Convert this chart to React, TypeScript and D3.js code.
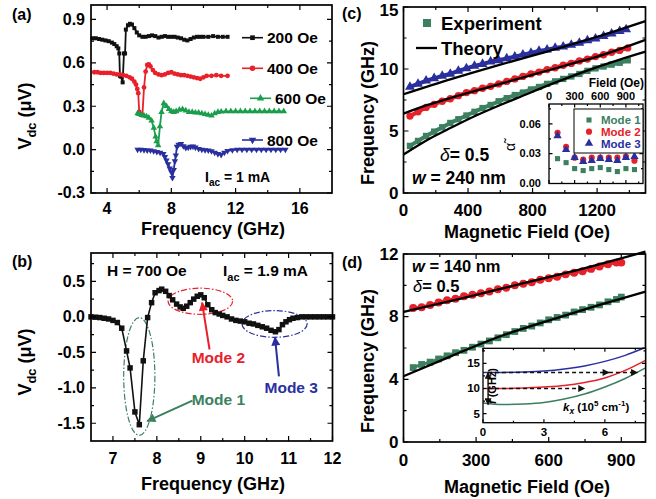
import React from 'react';
import * as d3 from 'd3';

const FONT = "'Liberation Sans', Arial, Helvetica, sans-serif";
const RED = '#e8202a';
const GREEN_A = '#1a9e4c';
const GREEN = '#3c8060';
const BLUE = '#2a2f9e';

// ---- panel (a): Vdc vs frequency for four fields
const a200 = [[3.1,0.77],[3.3,0.77],[3.5,0.765],[3.7,0.76],[3.9,0.755],[4.1,0.75],[4.3,0.74],[4.45,0.73],[4.6,0.715],[4.7,0.70],[4.76,0.665],[4.8,0.51],[4.86,0.505],[4.97,0.465],[5.05,0.665],[5.12,0.665],[5.17,0.83],[5.3,0.86],[5.42,0.87],[5.55,0.865],[5.7,0.84],[5.85,0.81],[6.0,0.79],[6.2,0.78],[6.4,0.78],[6.6,0.785],[6.8,0.79],[7.0,0.785],[7.2,0.775],[7.4,0.78],[7.6,0.785],[7.8,0.78],[8.0,0.78],[8.2,0.78],[8.4,0.775],[8.6,0.77],[8.8,0.76],[9.0,0.755],[9.2,0.765],[9.4,0.775],[9.6,0.78],[9.8,0.78],[10.0,0.78],[10.3,0.78],[10.6,0.785],[10.9,0.78],[11.2,0.78],[11.5,0.78]];
const a400 = [[3.2,0.535],[3.4,0.535],[3.6,0.53],[3.8,0.53],[4.0,0.53],[4.2,0.53],[4.4,0.525],[4.6,0.52],[4.8,0.52],[5.0,0.515],[5.2,0.51],[5.4,0.5],[5.55,0.49],[5.7,0.47],[5.8,0.45],[5.88,0.42],[5.94,0.39],[6.0,0.26],[6.1,0.24],[6.2,0.24],[6.3,0.43],[6.4,0.54],[6.5,0.585],[6.6,0.59],[6.7,0.575],[6.85,0.55],[7.0,0.53],[7.2,0.52],[7.4,0.515],[7.6,0.52],[7.8,0.53],[8.0,0.535],[8.2,0.525],[8.4,0.52],[8.6,0.515],[8.8,0.515],[9.0,0.51],[9.2,0.505],[9.4,0.5],[9.6,0.495],[9.8,0.49],[10.0,0.5],[10.2,0.51],[10.5,0.51],[10.8,0.515],[11.1,0.51],[11.5,0.51]];
const a600 = [[5.9,0.25],[6.0,0.245],[6.15,0.24],[6.3,0.235],[6.45,0.23],[6.6,0.22],[6.77,0.2],[6.91,0.15],[7.02,0.09],[7.08,0.057],[7.18,0.03],[7.29,0.16],[7.39,0.26],[7.53,0.32],[7.7,0.3],[7.85,0.28],[8.0,0.265],[8.15,0.26],[8.3,0.265],[8.5,0.275],[8.7,0.28],[8.9,0.27],[9.1,0.26],[9.3,0.26],[9.5,0.255],[9.7,0.255],[9.9,0.25],[10.1,0.245],[10.3,0.24],[10.5,0.235],[10.7,0.25],[10.9,0.26],[11.1,0.262],[11.4,0.265],[11.7,0.265],[12.0,0.265],[12.3,0.265],[12.6,0.265],[12.9,0.265],[13.2,0.265],[13.5,0.265],[13.8,0.265],[14.1,0.265],[14.4,0.265],[14.7,0.265],[15.0,0.265]];
const a800 = [[5.9,0.0],[6.1,0.0],[6.3,-0.002],[6.5,-0.005],[6.7,-0.005],[6.9,-0.01],[7.1,-0.015],[7.3,-0.02],[7.5,-0.03],[7.6,-0.05],[7.7,-0.075],[7.8,-0.1],[7.9,-0.13],[8.0,-0.155],[8.07,-0.195],[8.15,-0.14],[8.22,-0.08],[8.28,-0.04],[8.35,0.02],[8.45,0.035],[8.6,0.04],[8.75,0.025],[8.9,0.012],[9.05,0.015],[9.2,0.02],[9.35,0.022],[9.5,0.015],[9.7,0.005],[9.9,0.0],[10.1,-0.003],[10.3,-0.005],[10.5,-0.01],[10.7,-0.02],[10.9,-0.03],[11.1,-0.035],[11.3,-0.02],[11.5,-0.008],[11.8,-0.003],[12.1,0.0],[12.4,0.0],[12.7,0.0],[13.0,0.0],[13.3,0.0],[13.6,0.0],[13.9,0.0],[14.2,0.0],[14.5,0.0],[14.8,0.0],[15.1,0.0]];
const aLegend = ['200 Oe', '400 Oe', '600 Oe', '800 Oe'];

// ---- panel (b): H = 700 Oe spectrum
const bData = [[6.5,0.0],[6.6,-0.005],[6.7,-0.01],[6.8,-0.02],[6.9,-0.03],[7.0,-0.05],[7.1,-0.08],[7.2,-0.16],[7.31,-0.48],[7.39,-0.72],[7.5,-1.34],[7.6,-1.52],[7.69,-0.62],[7.79,-0.01],[7.88,0.2],[7.96,0.34],[8.05,0.37],[8.11,0.39],[8.2,0.36],[8.28,0.3],[8.36,0.24],[8.45,0.18],[8.53,0.14],[8.6,0.12],[8.68,0.15],[8.76,0.2],[8.84,0.25],[8.92,0.29],[9.0,0.31],[9.08,0.27],[9.16,0.17],[9.25,0.1],[9.33,0.06],[9.42,0.04],[9.5,0.02],[9.6,0.0],[9.7,-0.03],[9.8,-0.05],[9.9,-0.06],[10.0,-0.07],[10.1,-0.09],[10.2,-0.1],[10.3,-0.12],[10.4,-0.14],[10.5,-0.16],[10.6,-0.19],[10.7,-0.21],[10.78,-0.18],[10.86,-0.11],[10.94,-0.07],[11.02,-0.04],[11.1,-0.02],[11.2,-0.01],[11.3,0.0],[11.4,0.0],[11.5,0.0],[11.6,0.0],[11.7,0.0],[11.8,0.0],[11.9,0.0],[12.0,0.0]];
const bModes = [
  { name: 'Mode 1', color: GREEN, ell: [7.6, -0.84, 0.355, 0.83], from: [8.81, -1.18], to: [7.78, -1.47], text: [9.4, -1.24] },
  { name: 'Mode 2', color: RED, ell: [8.99, 0.22, 0.735, 0.184], from: [9.2, -0.46], to: [9.03, 0.2], text: [9.4, -0.65] },
  { name: 'Mode 3', color: BLUE, ell: [10.68, -0.1, 0.742, 0.188], from: [10.78, -0.84], to: [10.69, -0.29], text: [11.06, -1.07] },
];

// ---- panel (c): frequency vs field, w = 240 nm
const cMode1 = [[40,3.8],[90,4.2],[140,4.6],[190,4.95],[240,5.3],[290,5.65],[340,5.95],[390,6.25],[440,6.55],[490,6.85],[540,7.1],[590,7.4],[640,7.65],[690,7.9],[740,8.1],[790,8.35],[840,8.55],[890,8.8],[940,9.0],[990,9.2],[1040,9.4],[1090,9.6],[1140,9.85],[1190,10.05],[1240,10.2],[1290,10.35],[1340,10.5],[1390,10.7]];
const cMode2 = [[40,6.2],[90,6.55],[140,6.9],[190,7.15],[240,7.4],[290,7.6],[340,7.85],[390,8.1],[440,8.25],[490,8.45],[540,8.6],[590,8.8],[640,9.0],[690,9.2],[740,9.4],[790,9.6],[840,9.75],[890,9.95],[940,10.1],[990,10.3],[1040,10.45],[1090,10.65],[1140,10.8],[1190,11.0],[1240,11.15],[1290,11.35],[1340,11.5],[1390,11.7]];
const cMode3 = [[40,8.55],[90,8.8],[140,9.05],[190,9.25],[240,9.45],[290,9.6],[340,9.85],[390,10.05],[440,10.25],[490,10.4],[540,10.6],[590,10.7],[640,10.85],[690,11.0],[740,11.15],[790,11.3],[840,11.45],[890,11.55],[940,11.7],[990,11.8],[1040,11.95],[1090,12.1],[1140,12.3],[1190,12.45],[1240,12.65],[1290,12.85],[1340,13.05],[1380,13.2]];
const cTheory1 = [[0,3.1],[150,4.3],[300,5.3],[450,6.25],[600,7.1],[750,7.9],[900,8.7],[1050,9.45],[1200,10.15],[1350,10.8],[1500,11.4]];
const cTheory2 = [[0,6.4],[150,7.1],[300,7.7],[450,8.25],[600,8.8],[750,9.35],[900,9.9],[1050,10.45],[1200,11.0],[1350,11.65],[1500,12.35]];
const cTheory3 = [[0,7.96],[300,9.2],[600,10.35],[900,11.45],[1200,12.6],[1500,13.87]];
// inset (c): damping per mode
const insetField = [100,200,300,400,500,600,700,800,900,1000];
const alpha1 = [0.025,0.021,0.015,0.013,0.015,0.016,0.014,0.012,0.015,0.014];
const alpha2 = [0.051,0.037,0.026,0.024,0.026,0.026,0.026,0.026,0.027,0.023];
const alpha3 = [0.048,0.034,0.026,0.022,0.023,0.025,0.024,0.023,0.026,0.027];

// ---- panel (d): w = 140 nm
const dMode2 = [[40,8.55],[75,8.6],[110,8.75],[145,8.9],[180,9.05],[215,9.15],[250,9.3],[285,9.4],[320,9.5],[355,9.6],[390,9.75],[425,9.85],[460,10.0],[495,10.1],[530,10.2],[565,10.35],[600,10.45],[635,10.55],[670,10.7],[705,10.8],[740,10.9],[775,11.05],[810,11.2],[845,11.35],[880,11.45],[900,11.45]];
const dMode1 = [[40,4.75],[75,4.95],[110,5.1],[145,5.3],[180,5.5],[215,5.7],[250,5.85],[285,6.05],[320,6.25],[355,6.45],[390,6.65],[425,6.85],[460,7.05],[495,7.25],[530,7.4],[565,7.6],[600,7.8],[635,7.95],[670,8.1],[705,8.3],[740,8.45],[775,8.6],[810,8.75],[845,8.95],[880,9.1],[900,9.25]];
const dTheory2 = [[0,8.3],[250,9.2],[500,10.15],[750,11.1],[1000,12.15]];
const dTheory1 = [[0,4.2],[200,5.5],[400,6.75],[600,7.75],[800,8.7],[1000,9.6]];
// inset (d): dispersion f(kx)
const dispBlue = [[0,13.2],[1,13.2],[2,13.3],[3,13.5],[4,13.9],[5,14.5],[6,15.4],[7,16.6],[7.9,18]];
const dispRed = [[0,10],[1,10],[2,10.1],[3,10.3],[4,10.6],[5,11.2],[6,12.1],[7,13.6],[8,15.6]];
const dispGreen = [[0,7.1],[1,6.8],[2,6.9],[3,7.2],[4,7.9],[5,8.9],[6,10.3],[7,12.0],[8,14.1]];
const dashArrows = [[[0.25,13.2],[6.2,13.2]],[[6.2,13.2],[7.6,13.2]],[[0.25,10],[5.0,10]]];
const vArrows = [[[0.25,10],[0.25,13.2]],[[0.25,10],[0.25,6.8]]];

type Lin = d3.ScaleLinear<number, number>;
const f1 = (v: number) => v.toFixed(1);
const f2 = (v: number) => v.toFixed(2);
const f0 = (v: number) => String(v);

const xA = d3.scaleLinear().domain([3, 18]).range([91, 332]);
const yA = d3.scaleLinear().domain([-0.3, 1.0]).range([193, 5]);
const xB = d3.scaleLinear().domain([6.5, 12]).range([91, 332.5]);
const yB = d3.scaleLinear().domain([-1.75, 0.9]).range([441, 253]);
const xC = d3.scaleLinear().domain([0, 1500]).range([403.5, 645.5]);
const yC = d3.scaleLinear().domain([0, 15]).range([193, 7]);
const xD = d3.scaleLinear().domain([0, 1000]).range([403.5, 645.5]);
const yD = d3.scaleLinear().domain([0, 12]).range([442, 254]);
const xI = d3.scaleLinear().domain([0, 1100]).range([549, 643]);
const yI = d3.scaleLinear().domain([0, 0.08]).range([183.5, 104]);
const xJ = d3.scaleLinear().domain([0, 8]).range([483, 645.5]);
const yJ = d3.scaleLinear().domain([3.2, 18]).range([422.7, 348.3]);

const sym = (t: d3.SymbolType, s: number) => d3.symbol().type(t).size(s)() as string;

function Frame(p: { x: Lin; y: Lin; xMaj: number[]; xMin: number[]; yMaj: number[]; yMin: number[]; xLab: number[]; yLab: number[]; xFmt: (v: number) => string; yFmt: (v: number) => string; fs: number; xOff: number; yOff: number; top?: boolean; maj?: number; mn?: number; sw?: number }) {
  const { x, y, fs } = p;
  const maj = p.maj ?? 5, mn = p.mn ?? 3;
  const [l, r] = x.range();
  const [b, t] = y.range();
  let d = '';
  p.xMaj.forEach(v => { d += `M${x(v)},${b}v${-maj}M${x(v)},${t}v${maj}`; });
  p.xMin.forEach(v => { d += `M${x(v)},${b}v${-mn}M${x(v)},${t}v${mn}`; });
  p.yMaj.forEach(v => { d += `M${l},${y(v)}h${maj}M${r},${y(v)}h${-maj}`; });
  p.yMin.forEach(v => { d += `M${l},${y(v)}h${mn}M${r},${y(v)}h${-mn}`; });
  return (
    <g fontFamily={FONT} fontWeight="bold" fontSize={fs}>
      <path d={d} stroke="#000" strokeWidth={1.2} fill="none" />
      <rect x={l} y={t} width={r - l} height={b - t} fill="none" stroke="#000" strokeWidth={p.sw ?? 1.7} />
      {p.xLab.map(v => (
        <text key={'x' + v} x={x(v)} y={p.top ? t - p.xOff : b + p.xOff} textAnchor="middle">{p.xFmt(v)}</text>
      ))}
      {p.yLab.map(v => (
        // keep the topmost label inside the page
        <text key={'y' + v} x={l - p.yOff} y={Math.max(y(v) + 0.34 * fs, fs * 0.93)} textAnchor="end">{p.yFmt(v)}</text>
      ))}
    </g>
  );
}

function Series(p: { data: number[][]; x: Lin; y: Lin; color: string; shape: d3.SymbolType; size: number; lw?: number; flip?: boolean }) {
  const line = d3.line<number[]>().x(d => p.x(d[0])).y(d => p.y(d[1]));
  const s = sym(p.shape, p.size);
  return (
    <g>
      {p.lw ? <path d={line(p.data) as string} fill="none" stroke={p.color} strokeWidth={p.lw} strokeLinejoin="round" /> : null}
      {p.data.map((d, i) => (
        <path key={i} d={s} fill={p.color} transform={`translate(${p.x(d[0])},${p.y(d[1])})${p.flip ? ' rotate(180)' : ''}`} />
      ))}
    </g>
  );
}

function Curve(p: { data: number[][]; x: Lin; y: Lin; color: string; lw: number; smooth?: boolean }) {
  const line = d3.line<number[]>().x(d => p.x(d[0])).y(d => p.y(d[1])).curve(p.smooth ? d3.curveMonotoneX : d3.curveLinear);
  return <path d={line(p.data) as string} fill="none" stroke={p.color} strokeWidth={p.lw} />;
}

const VLabel = ({ x, y }: { x: number; y: number }) => (
  <text transform={`translate(${x},${y}) rotate(-90)`} textAnchor="middle" fontFamily={FONT} fontWeight="bold" fontSize={18}>
    V<tspan dy={5} fontSize={13}>dc</tspan><tspan dy={-5}>{'  (\u03bcV)'}</tspan>
  </text>
);

const Title = ({ x, y, t, rot }: { x: number; y: number; t: string; rot?: boolean }) => (
  <text transform={`translate(${x},${y})${rot ? ' rotate(-90)' : ''}`} textAnchor="middle" fontFamily={FONT} fontWeight="bold" fontSize={18}>{t}</text>
);

export default function App() {
  const legendA = [
    { c: '#111', t: d3.symbolSquare, s: 22, y: 37.7, x0: 242 },
    { c: RED, t: d3.symbolCircle, s: 24, y: 68.3, x0: 242 },
    { c: GREEN_A, t: d3.symbolTriangle, s: 24, y: 98.3, x0: 250 },
    { c: BLUE, t: d3.symbolTriangle, s: 24, y: 140, x0: 242, flip: true },
  ];
  const lineD = (pts: number[][], x: Lin, y: Lin) => d3.line<number[]>().x(d => x(d[0])).y(d => y(d[1]))(pts) as string;
  const fill = { fontFamily: FONT, fontWeight: 'bold' as const };

  return (
    <svg width={656} height={499} viewBox="0 0 656 499" style={{ position: 'absolute', left: 0, top: 0, background: '#fff' }}>
      <defs>
        {[['G', GREEN], ['R', RED], ['B', BLUE], ['K', '#111']].map(([k, c]) => (
          <marker key={k} id={'ar' + k} viewBox="0 0 10 10" refX="9" refY="5" markerUnits="userSpaceOnUse" markerWidth={k === 'K' ? 8 : 11} markerHeight={k === 'K' ? 7 : 9} orient="auto">
            <path d="M0,0L10,5L0,10z" fill={c} />
          </marker>
        ))}
      </defs>

      {/* ---------- (a) ---------- */}
      <Series data={a200} x={xA} y={yA} color="#111" shape={d3.symbolSquare} size={16} lw={1.8} />
      <Series data={a400} x={xA} y={yA} color={RED} shape={d3.symbolCircle} size={18} lw={1.8} />
      <Series data={a600} x={xA} y={yA} color={GREEN_A} shape={d3.symbolTriangle} size={18} lw={1.8} />
      <Series data={a800} x={xA} y={yA} color={BLUE} shape={d3.symbolTriangle} size={18} lw={1.8} flip />
      <Frame x={xA} y={yA} xMaj={[4, 8, 12, 16]} xMin={[6, 10, 14]} yMaj={[-0.3, 0, 0.3, 0.6, 0.9]} yMin={[-0.15, 0.15, 0.45, 0.75]}
        xLab={[4, 8, 12, 16]} yLab={[-0.3, 0, 0.3, 0.6, 0.9]} xFmt={f0} yFmt={f1} fs={16} xOff={21} yOff={6} />
      {legendA.map((l, i) => (
        <g key={i}>
          <line x1={l.x0} x2={l.x0 + 21} y1={l.y} y2={l.y} stroke={l.c} strokeWidth={1.6} />
          <path d={sym(l.t, l.s)} fill={l.c} transform={`translate(${l.x0 + 10.5},${l.y})${l.flip ? ' rotate(180)' : ''}`} />
          <text x={l.x0 + 25} y={l.y} dy="0.36em" {...fill} fontSize={15.5}>{aLegend[i]}</text>
        </g>
      ))}
      <text x={205} y={182} {...fill} fontSize={14}>I<tspan dy={4} fontSize={10}>ac</tspan><tspan dy={-4}> = 1 mA</tspan></text>
      <VLabel x={31} y={116} />
      <Title x={213} y={235} t="Frequency (GHz)" />
      <text x={12} y={20} {...fill} fontSize={16}>(a)</text>

      {/* ---------- (b) ---------- */}
      {bModes.map(m => (
        <ellipse key={m.name} cx={xB(m.ell[0])} cy={yB(m.ell[1])} rx={xB(m.ell[0] + m.ell[2]) - xB(m.ell[0])} ry={yB(m.ell[1]) - yB(m.ell[1] + m.ell[3])}
          fill="none" stroke={m.color} strokeWidth={1.2} strokeDasharray="6 2 1.5 2" />
      ))}
      <Series data={bData} x={xB} y={yB} color="#111" shape={d3.symbolSquare} size={30} lw={1.6} />
      <Frame x={xB} y={yB} xMaj={[7, 8, 9, 10, 11, 12]} xMin={[7.5, 8.5, 9.5, 10.5, 11.5]} yMaj={[-1.5, -1, -0.5, 0, 0.5]} yMin={[-1.25, -0.75, -0.25, 0.25, 0.75]}
        xLab={[7, 8, 9, 10, 11, 12]} yLab={[-1.5, -1, -0.5, 0, 0.5]} xFmt={f0} yFmt={f1} fs={16} xOff={23} yOff={6} />
      {bModes.map(m => (
        <g key={m.name + 'a'}>
          <line x1={xB(m.from[0])} y1={yB(m.from[1])} x2={xB(m.to[0])} y2={yB(m.to[1])} stroke={m.color} strokeWidth={2} markerEnd={`url(#ar${m.name === 'Mode 1' ? 'G' : m.name === 'Mode 2' ? 'R' : 'B'})`} />
          <text x={xB(m.text[0])} y={yB(m.text[1])} textAnchor="middle" {...fill} fontSize={15.5} fill={m.color}>{m.name}</text>
        </g>
      ))}
      <text x={107} y={276} {...fill} fontSize={15.5}>H = 700 Oe</text>
      <text x={223} y={276} {...fill} fontSize={15.5}>I<tspan dy={5} fontSize={11}>ac</tspan><tspan dy={-5}> = 1.9 mA</tspan></text>
      <VLabel x={31} y={362} />
      <Title x={213} y={490} t="Frequency (GHz)" />
      <text x={12} y={267} {...fill} fontSize={16}>(b)</text>

      {/* ---------- (c) ---------- */}
      <Series data={cMode1} x={xC} y={yC} color={GREEN} shape={d3.symbolSquare} size={40} lw={4} />
      <Series data={cMode2} x={xC} y={yC} color={RED} shape={d3.symbolCircle} size={42} lw={4} />
      <Series data={cMode3} x={xC} y={yC} color={BLUE} shape={d3.symbolTriangle} size={42} lw={4} />
      <Curve data={cTheory1} x={xC} y={yC} color="#000" lw={2.3} smooth />
      <Curve data={cTheory2} x={xC} y={yC} color="#000" lw={2.3} smooth />
      <Curve data={cTheory3} x={xC} y={yC} color="#000" lw={2.3} smooth />
      <Frame x={xC} y={yC} xMaj={[0, 400, 800, 1200]} xMin={[200, 600, 1000, 1400]} yMaj={[0, 5, 10, 15]} yMin={[2.5, 7.5, 12.5]}
        xLab={[0, 400, 800, 1200]} yLab={[0, 5, 10, 15]} xFmt={f0} yFmt={f0} fs={17} xOff={23} yOff={5} />
      <path d={sym(d3.symbolSquare, 64)} fill={GREEN} transform="translate(427,23)" />
      <text x={441} y={23} dy="0.36em" {...fill} fontSize={18.5}>Experiment</text>
      <line x1={416} x2={437} y1={48} y2={48} stroke="#000" strokeWidth={2.3} />
      <text x={441} y={48} dy="0.36em" {...fill} fontSize={18.5}>Theory</text>
      <text x={440} y={161} {...fill} fontSize={17.5}><tspan fontStyle="italic" fontWeight="normal">δ</tspan>= 0.5</text>
      <text x={412} y={184} {...fill} fontSize={17.5}><tspan fontStyle="italic">w</tspan> = 240  nm</text>
      <Title x={374} y={113} t="Frequency (GHz)" rot />
      <Title x={527} y={237.5} t="Magnetic Field (Oe)" />
      <text x={342} y={19} {...fill} fontSize={16}>(c)</text>

      {/* inset (c) */}
      <rect x={549} y={104} width={94} height={79.5} fill="#fff" />
      {[[alpha1, GREEN, d3.symbolSquare, 26], [alpha2, RED, d3.symbolCircle, 30], [alpha3, BLUE, d3.symbolTriangle, 30]].map(([vals, c, t, s], k) => (
        <Series key={k} data={insetField.map((f, i) => [f, (vals as number[])[i]])} x={xI} y={yI} color={c as string} shape={t as d3.SymbolType} size={s as number} />
      ))}
      <Frame x={xI} y={yI} xMaj={[0, 300, 600, 900]} xMin={[150, 450, 750, 1050]} yMaj={[0, 0.03, 0.06]} yMin={[0.015, 0.045, 0.075]}
        xLab={[0, 300, 600, 900]} yLab={[0, 0.03, 0.06]} xFmt={f0} yFmt={f2} fs={11} xOff={4} yOff={8} top maj={3.5} mn={2} sw={1.3} />
      <text x={644} y={87} textAnchor="end" {...fill} fontSize={12}>Field (Oe)</text>
      <text transform="translate(515,147) rotate(-90)" textAnchor="middle" fontFamily={FONT} fontSize={14}>α̃</text>
      <rect x={574} y={109} width={69} height={44} fill="#fff" stroke="#000" strokeWidth={1} />
      {[['Mode 1', GREEN, d3.symbolSquare, 26], ['Mode 2', RED, d3.symbolCircle, 30], ['Mode 3', BLUE, d3.symbolTriangle, 30]].map(([n, c, t, s], k) => (
        <g key={k}>
          <path d={sym(t as d3.SymbolType, s as number)} fill={c as string} transform={`translate(589,${120 + k * 11.7})`} />
          <text x={601} y={120 + k * 11.7} dy="0.36em" {...fill} fontSize={11.5} fill={c as string}>{n as string}</text>
        </g>
      ))}

      {/* ---------- (d) ---------- */}
      <Series data={dMode1} x={xD} y={yD} color={GREEN} shape={d3.symbolSquare} size={46} lw={3} />
      <Series data={dMode2} x={xD} y={yD} color={RED} shape={d3.symbolCircle} size={50} lw={3} />
      <Curve data={dTheory1} x={xD} y={yD} color="#000" lw={2.3} smooth />
      <Curve data={dTheory2} x={xD} y={yD} color="#000" lw={2.3} smooth />
      <Frame x={xD} y={yD} xMaj={[0, 300, 600, 900]} xMin={[150, 450, 750]} yMaj={[0, 4, 8, 12]} yMin={[2, 6, 10]}
        xLab={[0, 300, 600, 900]} yLab={[0, 4, 8, 12]} xFmt={f0} yFmt={f0} fs={17} xOff={24} yOff={5} />
      <text x={412} y={272} {...fill} fontSize={16.5}><tspan fontStyle="italic">w</tspan> = 140  nm</text>
      <text x={413} y={292} {...fill} fontSize={16.5}><tspan fontStyle="italic" fontWeight="normal">δ</tspan>= 0.5</text>
      <Title x={374} y={361} t="Frequency (GHz)" rot />
      <Title x={527} y={493} t="Magnetic Field (Oe)" />
      <text x={342} y={268} {...fill} fontSize={16}>(d)</text>

      {/* inset (d) */}
      <rect x={483} y={348.3} width={162.5} height={74.4} fill="#fff" />
      <Curve data={dispBlue} x={xJ} y={yJ} color={BLUE} lw={1.5} smooth />
      <Curve data={dispRed} x={xJ} y={yJ} color={RED} lw={1.5} smooth />
      <Curve data={dispGreen} x={xJ} y={yJ} color={GREEN} lw={1.5} smooth />
      {dashArrows.map((a, i) => (
        <path key={i} d={lineD(a, xJ, yJ)} stroke="#111" strokeWidth={1.4} strokeDasharray="4 3" fill="none" markerEnd="url(#arK)" />
      ))}
      {vArrows.map((a, i) => (
        <path key={'v' + i} d={lineD(a, xJ, yJ)} stroke="#111" strokeWidth={1.4} fill="none" markerEnd="url(#arK)" />
      ))}
      <Frame x={xJ} y={yJ} xMaj={[0, 3, 6]} xMin={[1.5, 4.5, 7.5]} yMaj={[5, 10, 15]} yMin={[7.5, 12.5, 17.5]}
        xLab={[0, 3, 6]} yLab={[5, 10, 15]} xFmt={f0} yFmt={f0} fs={11.5} xOff={13} yOff={3} maj={3.5} mn={2} sw={1.3} />
      <text transform="translate(496,386) rotate(-90)" textAnchor="middle" {...fill} fontSize={11}>
        <tspan fontStyle="italic">f</tspan> (GHz)
      </text>
      <text x={563} y={411} {...fill} fontSize={11.5}>
        <tspan fontStyle="italic">k</tspan><tspan dy={3} fontSize={8.5} fontStyle="italic">x</tspan><tspan dy={-3}> (10</tspan><tspan dy={-5} fontSize={8}>5</tspan><tspan dy={5}> cm</tspan><tspan dy={-5} fontSize={8}>-1</tspan><tspan dy={5}>)</tspan>
      </text>
    </svg>
  );
}
